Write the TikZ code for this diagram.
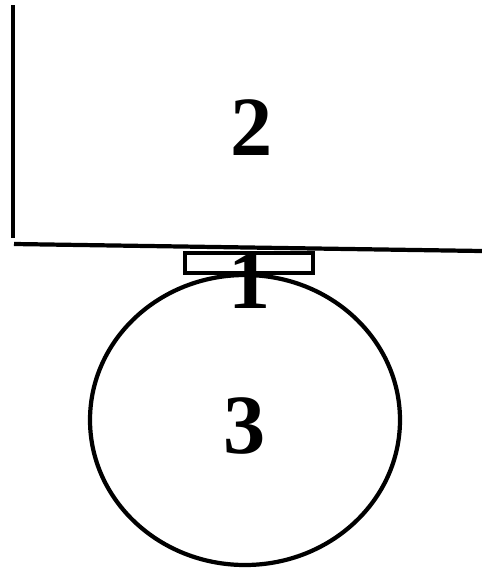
\documentclass[tikz,border=0pt]{standalone}
\usepackage{fontspec}
\setmainfont{Liberation Serif}
\usepackage{tikz}

\begin{document}
\begin{tikzpicture}[x=0.02cm,y=-0.02cm,line width=2.4pt,
    lbl/.style={font=\fontsize{48}{48}\selectfont\bfseries,inner sep=0pt}]
            \useasboundingbox (0,0) rectangle (482,569);
            \coordinate (wtop) at (13,5);
            \coordinate (wbot) at (13,238);
            \coordinate (fl) at (14,244);
            \coordinate (fr) at (482,251);
            \draw (wtop) -- (wbot);
            \draw (fl) -- (fr);
            \draw (185,253) rectangle (313,273);
            \draw (245,420) ellipse [x radius=155, y radius=145];
            \node[lbl](two) at (252,128) {2};
            \node[lbl](one) at (250,281) {1};
            \node[lbl](three) at (245,426) {3};
        \end{tikzpicture}
\end{document}
